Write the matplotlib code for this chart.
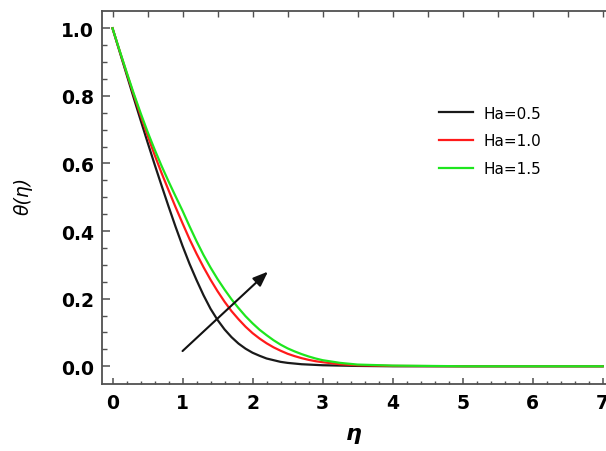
import numpy as np
import matplotlib
matplotlib.use("Agg")
import matplotlib.pyplot as plt

# Temperature profiles theta(eta) for three Hartmann numbers
eta = [0.0, 0.1, 0.2, 0.3, 0.4, 0.5, 0.6, 0.7, 0.8, 0.9, 1.0, 1.1, 1.2, 1.3,
       1.4, 1.5, 1.6, 1.7, 1.8, 1.9, 2.0, 2.1, 2.2, 2.3, 2.4, 2.5, 2.6, 2.7,
       2.8, 2.9, 3.0, 3.25, 3.5, 4.0, 5.0, 6.0, 7.0]
theta_ha05 = [1.000, 0.932, 0.864, 0.796, 0.729, 0.663, 0.598, 0.535, 0.473,
              0.413, 0.356, 0.303, 0.255, 0.210, 0.170, 0.137, 0.109, 0.086,
              0.067, 0.052, 0.040, 0.031, 0.023, 0.018, 0.013, 0.010, 0.008,
              0.006, 0.005, 0.004, 0.003, 0.002, 0.001, 0.0, 0.0, 0.0, 0.0]
theta_ha10 = [1.000, 0.934, 0.869, 0.805, 0.743, 0.683, 0.626, 0.572, 0.521,
              0.471, 0.423, 0.376, 0.333, 0.293, 0.256, 0.222, 0.191, 0.163,
              0.139, 0.117, 0.098, 0.082, 0.068, 0.056, 0.046, 0.037, 0.030,
              0.024, 0.019, 0.015, 0.012, 0.006, 0.003, 0.001, 0.0, 0.0, 0.0]
theta_ha15 = [1.000, 0.935, 0.871, 0.809, 0.750, 0.694, 0.642, 0.593, 0.547,
              0.503, 0.460, 0.414, 0.370, 0.329, 0.292, 0.258, 0.227, 0.198,
              0.172, 0.148, 0.127, 0.108, 0.092, 0.077, 0.064, 0.053, 0.044,
              0.036, 0.029, 0.023, 0.018, 0.010, 0.005, 0.002, 0.0, 0.0, 0.0]
labels = ["Ha=0.5", "Ha=1.0", "Ha=1.5"]
colors = ["#1a1a1a", "#ff1a1a", "#1ee61e"]

# arrow showing the trend with increasing Ha
arrow_start = (1.0, 0.045)
arrow_end = (2.22, 0.28)

W, H = 606, 452
fig = plt.figure(figsize=(W / 100, H / 100), dpi=100)
ax = fig.add_axes([102 / W, 1 - 384.5 / H, (W - 102) / W, (384.5 - 12) / H])

for y, lab, c in zip([theta_ha05, theta_ha10, theta_ha15], labels, colors):
    ax.plot(eta, y, color=c, lw=1.6, label=lab, solid_joinstyle="round")

ax.annotate("", xy=arrow_end, xytext=arrow_start,
            arrowprops=dict(arrowstyle="-|>,head_length=0.9,head_width=0.35",
                            color="#111111", lw=1.5, shrinkA=0, shrinkB=0))

ax.set_xlim(-0.15, 7.047)
ax.set_ylim(-0.051, 1.051)
ax.set_xticks(np.arange(0, 8, 1))
ax.set_xticks(np.arange(0, 7.01, 0.2), minor=True)
ax.set_yticks(np.arange(0, 1.01, 0.2))
ax.set_yticks(np.arange(0, 1.01, 0.05), minor=True)
ax.set_xticklabels([str(i) for i in range(8)])
ax.set_yticklabels(["0.0", "0.2", "0.4", "0.6", "0.8", "1.0"])

spine_c = "#505050"
for s in ["left", "bottom", "top"]:
    ax.spines[s].set_color(spine_c)
    ax.spines[s].set_linewidth(1.3)
ax.spines["right"].set_visible(False)

ax.tick_params(axis="x", which="major", direction="in", length=4.5, width=1.1,
               color=spine_c, pad=7, top=False)
ax.tick_params(axis="x", which="minor", direction="in", length=2.5, width=1.0,
               color=spine_c, top=False)
ax.tick_params(axis="y", which="major", direction="in", length=5.5, width=1.1,
               color=spine_c, pad=6, right=False)
ax.tick_params(axis="y", which="minor", direction="in", length=3.3, width=1.0,
               color=spine_c, right=False)
tick_fp = matplotlib.font_manager.FontProperties(family="DejaVu Sans",
                                                 weight="bold", size=13.5)
for lbl in ax.get_xticklabels() + ax.get_yticklabels():
    lbl.set_fontproperties(tick_fp)

top = ax.secondary_xaxis("top")
top.set_xticks(np.arange(0, 7.01, 0.5))
top.set_xticklabels([])
top.tick_params(direction="in", length=4, width=1.0, color=spine_c)
top.spines["top"].set_visible(False)

ax.set_xlabel("η", family="DejaVu Sans", fontsize=16, fontweight="bold",
              fontstyle="italic", labelpad=8)
ax.set_ylabel("θ(η)", family="DejaVu Sans", fontsize=13.5, fontstyle="italic")
ax.yaxis.set_label_coords(-0.138, 0.505)

ax.legend(loc="center left", bbox_to_anchor=(439 / W, 1 - 142 / H),
          bbox_transform=fig.transFigure, frameon=False, borderpad=0,
          borderaxespad=0, handlelength=2.2, handletextpad=0.7,
          labelspacing=0.85, prop=dict(family="DejaVu Sans", size=11))

fig.savefig("out.png", dpi=100)
